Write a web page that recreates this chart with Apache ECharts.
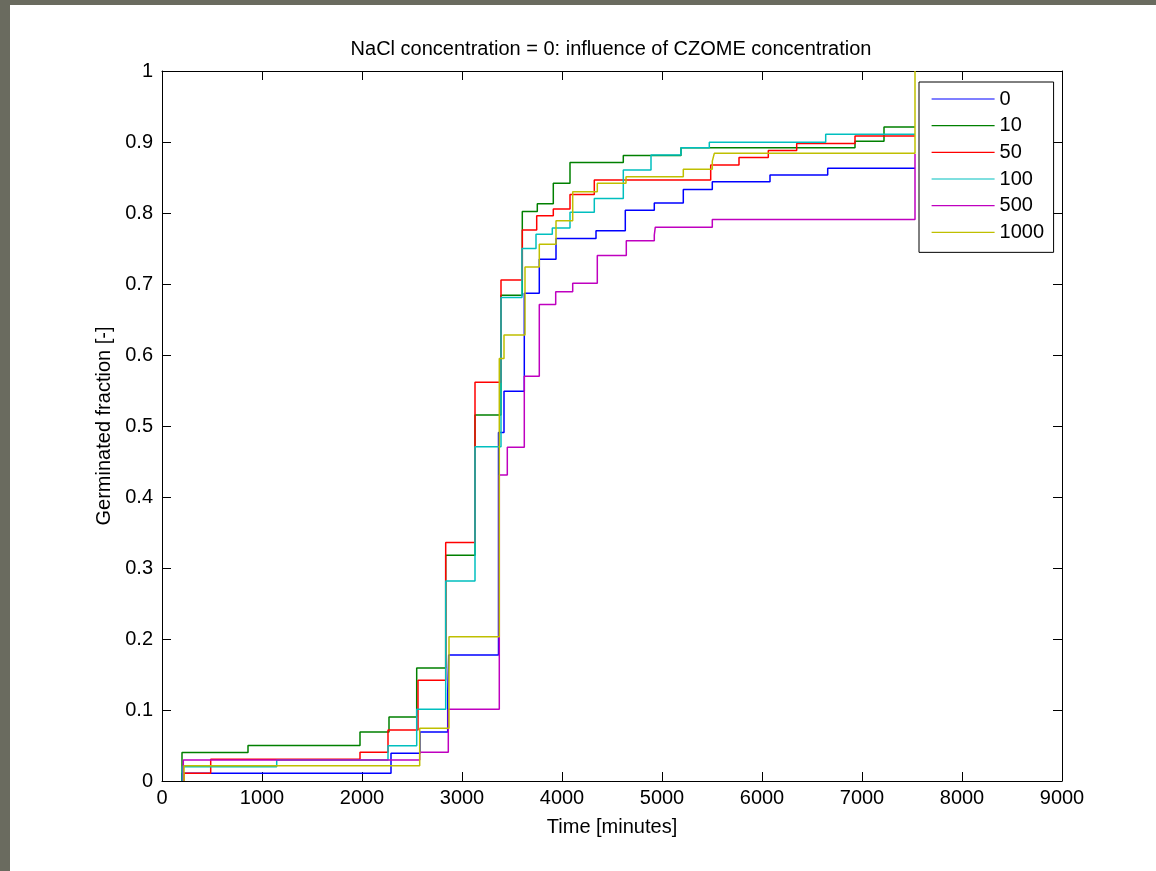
<!DOCTYPE html>
<html>
<head>
<meta charset="utf-8">
<title>NaCl concentration = 0: influence of CZOME concentration</title>
<script src="https://cdn.jsdelivr.net/npm/echarts@6/dist/echarts.min.js"></script>
<style>
  html, body { margin: 0; padding: 0; background: #ffffff; }
  #chart { width: 1156px; height: 871px; }
</style>
</head>
<body>
<div id="chart"></div>
<script>
// CZOME concentrations (legend entries)
const concentrations = ['0', '10', '50', '100', '500', '1000'];
const xTickLabels = ['0', '1000', '2000', '3000', '4000', '5000', '6000', '7000', '8000', '9000'];
const yTickLabels = ['0', '0.1', '0.2', '0.3', '0.4', '0.5', '0.6', '0.7', '0.8', '0.9', '1'];

// Stair data: time [minutes] at which a level starts, and the germinated fraction from then on
const time0 = [200, 200, 2290, 2580, 2857, 2867, 3365, 3420, 3623, 3773, 3940, 4340, 4633, 4923, 5213, 5503, 6080, 6657, 7530];
const frac0 = [0, 0.011, 0.039, 0.069, 0.1235, 0.1775, 0.491, 0.549, 0.687, 0.735, 0.764, 0.775, 0.804, 0.814, 0.833, 0.844, 0.8535, 0.863, 0.863];

const time10 = [200, 200, 860, 1980, 2270, 2547, 2837, 3130, 3390, 3603, 3753, 3913, 4080, 4613, 5190, 6930, 7220, 7530];
const frac10 = [0, 0.040, 0.050, 0.069, 0.090, 0.159, 0.318, 0.5155, 0.684, 0.802, 0.813, 0.842, 0.871, 0.881, 0.892, 0.901, 0.921, 0.921];

const time50 = [220, 220, 487, 1980, 2260, 2560, 2837, 3130, 3390, 3603, 3747, 3913, 4080, 4323, 5487, 5770, 6063, 6347, 6930, 7530];
const frac50 = [0, 0.011, 0.0305, 0.0404, 0.0718, 0.142, 0.336, 0.5615, 0.7056, 0.776, 0.796, 0.8056, 0.826, 0.8465, 0.8676, 0.878, 0.888, 0.898, 0.9085, 0.9085];

const time100 = [203, 203, 1147, 2260, 2547, 2837, 3130, 3390, 3600, 3740, 3903, 4080, 4323, 4613, 4890, 5190, 5473, 6637, 7530];
const frac100 = [0, 0.020, 0.0296, 0.0497, 0.101, 0.2817, 0.4709, 0.681, 0.750, 0.770, 0.779, 0.801, 0.8204, 0.8606, 0.8817, 0.892, 0.8995, 0.911, 0.911];

const time500 = [213, 213, 2577, 2863, 3373, 3453, 3623, 3773, 3937, 4107, 4353, 4643, 4923, 4933, 5503, 7530];
const frac500 = [0, 0.0296, 0.0404, 0.101, 0.431, 0.470, 0.570, 0.671, 0.689, 0.701, 0.740, 0.761, 0.769, 0.780, 0.791, 0.883];

const time1000 = [220, 220, 2577, 2870, 3373, 3420, 3630, 3773, 3940, 4107, 4353, 4640, 5213, 5503, 5523, 7530];
const frac1000 = [0, 0.0216, 0.0742, 0.2033, 0.595, 0.628, 0.724, 0.756, 0.789, 0.830, 0.842, 0.851, 0.8615, 0.873, 0.884, 1.0];

const times = [time0, time10, time50, time100, time500, time1000];
const fracs = [frac0, frac10, frac50, frac100, frac500, frac1000];
const colors = ['#0000ff', '#008000', '#ff0000', '#00bfbf', '#bf00bf', '#bfbf00'];

const FONT = "'Liberation Sans', Arial, Helvetica, sans-serif";

const series = concentrations.map((name, i) => ({
  name: name,
  type: 'line',
  step: 'end',
  symbol: 'none',
  showSymbol: false,
  xAxisIndex: 0,
  yAxisIndex: 0,
  color: colors[i],
  lineStyle: { color: colors[i], width: 1.5 },
  emphasis: { disabled: true },
  data: times[i].map((t, k) => [t, fracs[i][k]])
}));

const tickStyle = { inside: true, length: 9, lineStyle: { color: '#000', width: 1 } };
const lineStyle = { show: true, onZero: false, lineStyle: { color: '#000', width: 1 } };

const chart = echarts.init(document.getElementById('chart'), null, { renderer: 'canvas' });
chart.setOption({
  animation: false,
  backgroundColor: '#ffffff',
  textStyle: { fontFamily: FONT },
  grid: { left: 162, top: 71, width: 900, height: 710, outerBoundsMode: 'none' },
  graphic: [
    { type: 'rect', left: 0, top: 0, shape: { width: 10, height: 871 }, style: { fill: '#6a6b5f' }, silent: true },
    { type: 'rect', left: 0, top: 0, shape: { width: 1156, height: 5 }, style: { fill: '#6a6b5f' }, silent: true },
    {
      type: 'text', x: 611, y: 49, silent: true,
      style: {
        text: 'NaCl concentration = 0: influence of CZOME concentration',
        fontSize: 20, fontFamily: FONT, fill: '#000',
        align: 'center', verticalAlign: 'middle'
      }
    }
  ],
  legend: {
    orient: 'vertical',
    left: 919, top: 82,
    padding: [7, 9.5, 10, 12],
    itemWidth: 63, itemHeight: 20, itemGap: 6.67,
    backgroundColor: '#ffffff',
    borderColor: '#000', borderWidth: 1, borderRadius: 0,
    selectedMode: false,
    // line-only keys: the marker in the middle of each key is hidden
    itemStyle: { opacity: 0 },
    lineStyle: { width: 1.2 },
    textStyle: { fontSize: 20, color: '#000', fontFamily: FONT },
    data: concentrations
  },
  xAxis: [
    {
      type: 'value', position: 'bottom', min: 0, max: 9000, interval: 1000,
      name: 'Time [minutes]', nameLocation: 'middle', nameGap: 36,
      nameTextStyle: { fontSize: 20, color: '#000', fontFamily: FONT },
      axisLine: lineStyle, axisTick: tickStyle, splitLine: { show: false },
      axisLabel: { fontSize: 20, color: '#000', margin: 7, fontFamily: FONT,
        formatter: v => xTickLabels[Math.round(v / 1000)] }
    },
    {
      type: 'value', position: 'top', min: 0, max: 9000, interval: 1000,
      axisLine: lineStyle, axisTick: tickStyle, splitLine: { show: false },
      axisLabel: { show: false }
    }
  ],
  yAxis: [
    {
      type: 'value', position: 'left', min: 0, max: 1, interval: 0.1,
      name: 'Germinated fraction [-]', nameLocation: 'middle', nameGap: 46,
      nameTextStyle: { fontSize: 20, color: '#000', fontFamily: FONT },
      axisLine: lineStyle, axisTick: tickStyle, splitLine: { show: false },
      axisLabel: { fontSize: 20, color: '#000', margin: 9, fontFamily: FONT,
        formatter: v => yTickLabels[Math.round(v * 10)] }
    },
    {
      type: 'value', position: 'right', min: 0, max: 1, interval: 0.1,
      axisLine: lineStyle, axisTick: tickStyle, splitLine: { show: false },
      axisLabel: { show: false }
    }
  ],
  series: series
});
</script>
</body>
</html>
